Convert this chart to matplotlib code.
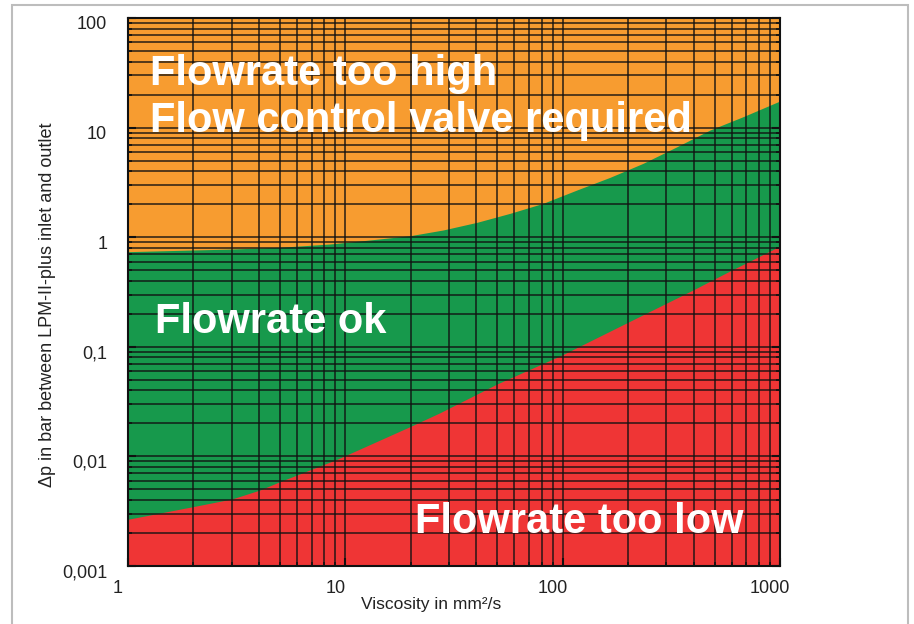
import matplotlib
matplotlib.use("Agg")
import matplotlib.pyplot as plt
import matplotlib.transforms as mtransforms
from matplotlib.patches import Rectangle
from matplotlib.ticker import LogLocator, NullFormatter, FixedLocator, FixedFormatter

# ---- data ----
viscosity = [1.0, 1.99, 3.01, 5.0, 8.5, 12.06, 19.86, 28.2, 40.4, 57.3, 81.3, 116.5,
             165.3, 234.4, 336, 476.6, 676, 1000]
upper_dp = [0.738, 0.764, 0.78, 0.809, 0.867, 0.929, 1.032, 1.164, 1.368, 1.652, 2.038, 2.70,
            3.52, 4.72, 6.70, 9.51, 12.57, 17.5]

viscosity_low = [1.0, 1.99, 3.01, 4.05, 5.0, 9.16, 19.8, 27.3, 49.9, 99.4, 198, 398, 589, 1000]
lower_dp = [0.00267, 0.00348, 0.00409, 0.00494, 0.00588, 0.00941, 0.01866, 0.02505,
            0.0458, 0.0842, 0.166, 0.33, 0.492, 0.83]

x_ticks = [1, 10, 100, 1000]
x_tick_labels = ["1", "10", "100", "1000"]
y_ticks = [0.001, 0.01, 0.1, 1, 10, 100]
y_tick_labels = ["0,001", "0,01", "0,1", "1", "10", "100"]

region_labels = ["Flowrate too high", "Flow control valve required", "Flowrate ok", "Flowrate too low"]

ORANGE = "#F79C30"
GREEN = "#17994C"
RED = "#EF3535"

W, H = 914, 624
fig = plt.figure(figsize=(W / 100, H / 100), dpi=100)
fig.patch.set_facecolor("white")

# light frame around the figure
fig.patches.append(Rectangle((12 / W, -0.05), (908 - 12) / W, 1.05 - 5 / H,
                             transform=fig.transFigure, fill=False,
                             edgecolor="#BDBDBD", linewidth=1.5))

ax = fig.add_axes([128 / W, 1 - 566 / H, (780 - 128) / W, (566 - 18) / H])
ax.set_xscale("log")
ax.set_yscale("log")
ax.set_xlim(1, 1000)
ax.set_ylim(0.001, 100)

ax.set_facecolor(ORANGE)
ax.fill_between(viscosity, upper_dp, 1e-4, color=GREEN, linewidth=0, zorder=1)
ax.fill_between(viscosity_low, lower_dp, 1e-4, color=RED, linewidth=0, zorder=1)

ax.xaxis.set_major_locator(FixedLocator(x_ticks))
ax.xaxis.set_major_formatter(FixedFormatter(x_tick_labels))
ax.yaxis.set_major_locator(FixedLocator(y_ticks))
ax.yaxis.set_major_formatter(FixedFormatter(y_tick_labels))
ax.xaxis.set_minor_locator(LogLocator(base=10, subs=range(2, 10), numticks=20))
ax.yaxis.set_minor_locator(LogLocator(base=10, subs=range(2, 10), numticks=20))
ax.xaxis.set_minor_formatter(NullFormatter())
ax.yaxis.set_minor_formatter(NullFormatter())

ax.grid(True, which="both", color="#111111", linewidth=1.1, alpha=0.9, zorder=2)
ax.set_axisbelow(False)

for s in ax.spines.values():
    s.set_color("#111111")
    s.set_linewidth(1.5)

sans = ["Liberation Sans", "DejaVu Sans"]
ax.tick_params(which="both", direction="in", left=True, right=True, bottom=True, top=False,
               color="#111111")
ax.tick_params(which="major", length=6, width=1.5)
ax.tick_params(which="minor", length=3, width=1.2)
ax.tick_params(axis="x", which="major", pad=10)
ax.tick_params(axis="y", which="major", pad=15)

for lab in ax.get_xticklabels():
    lab.set_fontfamily(sans)
    lab.set_fontsize(13)
    lab.set_color("#222222")
    lab.set_transform(lab.get_transform() + mtransforms.ScaledTranslation(-10 / 100, 0, fig.dpi_scale_trans))
for lab in ax.get_yticklabels():
    lab.set_fontfamily(sans)
    lab.set_fontsize(13)
    lab.set_color("#222222")
    lab.set_transform(lab.get_transform() + mtransforms.ScaledTranslation(0, -5 / 100, fig.dpi_scale_trans))

fig.text(431 / W, 1 - 605 / H, "Viscosity in mm²/s", ha="center", va="center",
         fontsize=12.5, family=sans, color="#222222")
fig.text(48 / W, 1 - 305 / H, "Δp in bar between LPM-II-plus inlet and outlet", ha="center",
         va="center", rotation=90, fontsize=13, family=sans, color="#222222")

big = dict(fontsize=30, fontweight="bold", color="white", family=sans,
           ha="left", va="baseline", zorder=5)
fig.text(150 / W, 1 - 85 / H, region_labels[0], **big)
fig.text(150 / W, 1 - 132 / H, region_labels[1], **big)
fig.text(155 / W, 1 - 333 / H, region_labels[2], **big)
fig.text(415 / W, 1 - 533 / H, region_labels[3], **big)

fig.savefig("out.png", dpi=100)
